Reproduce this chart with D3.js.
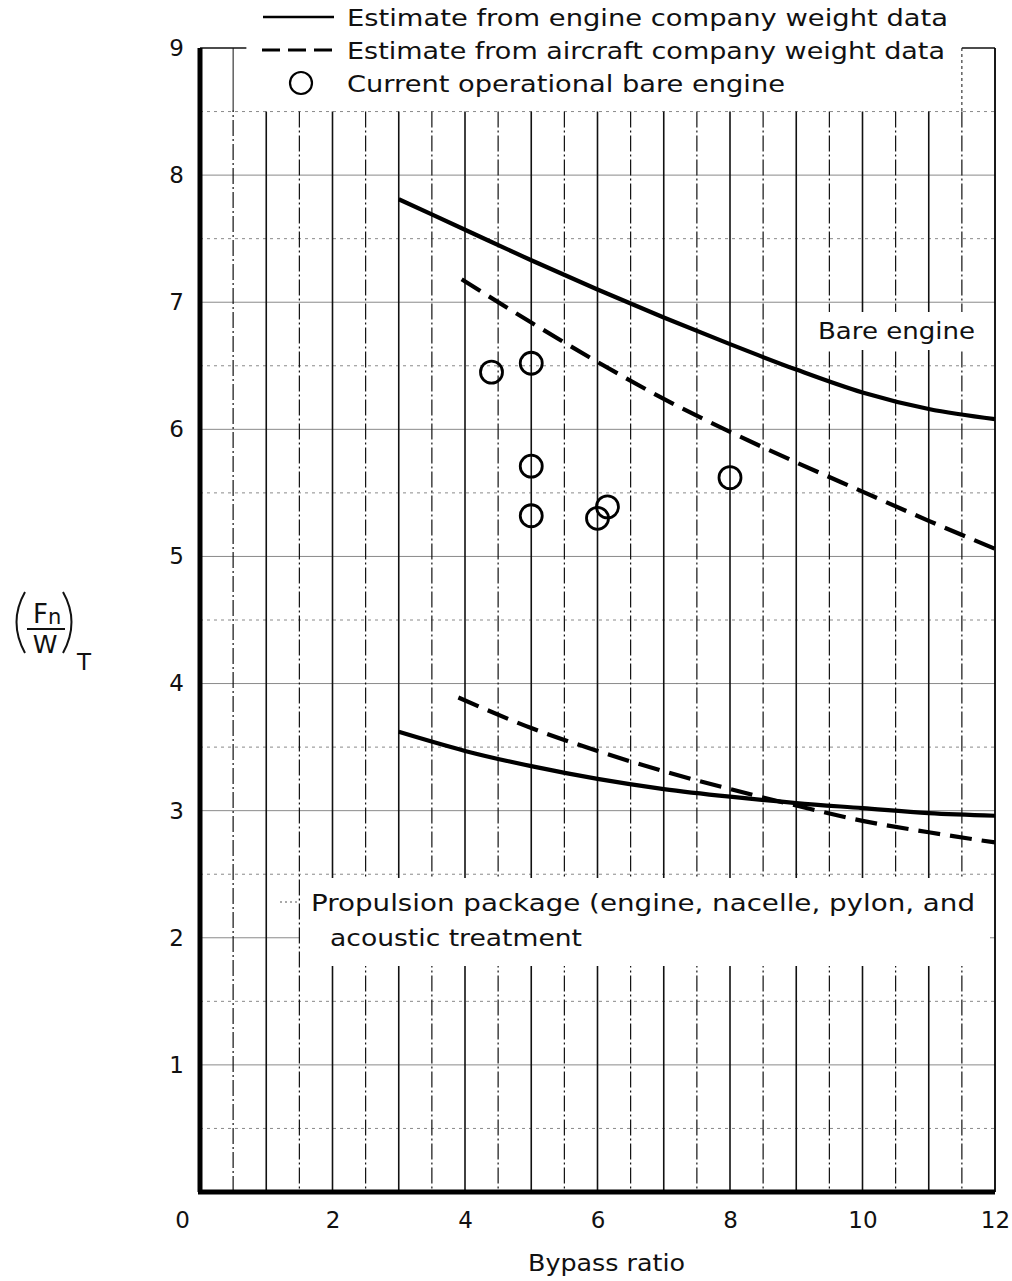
<!DOCTYPE html>
<html>
<head>
<meta charset="utf-8">
<script src="https://cdn.jsdelivr.net/npm/d3@7"></script>
<style>
    body { margin: 0; background: #fff; }
    text { font-family: 'DejaVu Sans', sans-serif; fill: #111; }
</style>
</head>
<body>
<svg id="chart" width="1012" height="1281"></svg>
<script>
// bypass ratio values and (Fn/W)T
var bareEngineX = [3, 4, 5, 6, 7, 8, 9, 10, 11, 12];
var bareEngineY = [7.81, 7.57, 7.33, 7.10, 6.88, 6.67, 6.47, 6.29, 6.16, 6.08];

var bareAircraftX = [3.95, 5, 6, 7, 8, 9, 10, 11, 12];
var bareAircraftY = [7.18, 6.84, 6.53, 6.24, 5.98, 5.74, 5.51, 5.28, 5.06];

var packageEngineX = [3, 4, 5, 6, 7, 8, 9, 10, 11, 12];
var packageEngineY = [3.62, 3.47, 3.35, 3.25, 3.17, 3.11, 3.06, 3.02, 2.98, 2.96];

var packageAircraftX = [3.9, 5, 6, 7, 8, 9, 10, 11, 12];
var packageAircraftY = [3.89, 3.65, 3.47, 3.31, 3.17, 3.04, 2.92, 2.83, 2.75];

var operationalX = [4.4, 5, 5, 5, 6, 6.15, 8];
var operationalY = [6.45, 6.52, 5.71, 5.32, 5.30, 5.39, 5.62];

var xTicks = [0, 2, 4, 6, 8, 10, 12];
var yTicks = [0, 1, 2, 3, 4, 5, 6, 7, 8, 9];

var svg = d3.select('#chart');

var x = d3.scaleLinear().domain([0, 12]).range([200, 995]);
var y = d3.scaleLinear().domain([0, 9]).range([1192, 48]);

var grid = svg.append('g').attr('class', 'grid');

// faint horizontal rulings
d3.range(0.5, 9, 0.5).forEach(function(v) {
    grid.append('line')
        .attr('x1', x(0)).attr('x2', x(12))
        .attr('y1', y(v)).attr('y2', y(v))
        .attr('stroke', '#8a8a8a')
        .attr('stroke-width', 1)
        .attr('stroke-dasharray', v % 1 === 0 ? null : '3,4');
});

// vertical rulings every half unit
d3.range(0.5, 12, 0.5).forEach(function(v) {
    grid.append('line')
        .attr('x1', x(v)).attr('x2', x(v))
        .attr('y1', y(v < 1 ? 9 : 8.5)).attr('y2', y(0))
        .attr('stroke', '#111')
        .attr('stroke-width', v % 1 === 0 ? 1.6 : 1.2)
        .attr('stroke-dasharray', v % 1 === 0 ? null : '16,3,2,3');
});

// white boxes for the notes
grid.append('rect').attr('x', 0).attr('y', 0).attr('width', 1012).attr('height', y(8.5) - 1).attr('fill', '#fff');
grid.append('line').attr('x1', x(0.5)).attr('x2', x(0.5)).attr('y1', y(9)).attr('y2', y(8.5)).attr('stroke', '#111');
grid.append('line').attr('x1', x(0)).attr('x2', x(0.7)).attr('y1', y(9)).attr('y2', y(9)).attr('stroke', '#111').attr('stroke-width', 1.5);
grid.append('line').attr('x1', x(11.5)).attr('x2', x(12)).attr('y1', y(9)).attr('y2', y(9)).attr('stroke', '#111').attr('stroke-width', 1.5);
grid.append('line').attr('x1', x(11.5)).attr('x2', x(11.5)).attr('y1', y(9)).attr('y2', y(8.5)).attr('stroke', '#111').attr('stroke-dasharray', '3,3');
grid.append('rect').attr('x', 300).attr('y', 878).attr('width', 690).attr('height', 88).attr('fill', '#fff');
grid.append('rect').attr('x', 800).attr('y', 312).attr('width', 188).attr('height', 38).attr('fill', '#fff');

// frame: heavy left and bottom, thin right
svg.append('line').attr('x1', x(0)).attr('x2', x(0)).attr('y1', y(9)).attr('y2', y(0))
    .attr('stroke', '#000').attr('stroke-width', 5);
svg.append('line').attr('x1', x(0) - 2).attr('x2', x(12)).attr('y1', y(0)).attr('y2', y(0))
    .attr('stroke', '#000').attr('stroke-width', 5);
svg.append('line').attr('x1', x(12)).attr('x2', x(12)).attr('y1', y(9)).attr('y2', y(0))
    .attr('stroke', '#000').attr('stroke-width', 1.8);

// axes labels
var yAxis = d3.axisLeft(y).tickValues(yTicks).tickSize(0).tickPadding(14);
var yg = svg.append('g').attr('transform', 'translate(' + x(0) + ',0)').call(yAxis);
yg.select('.domain').remove();
yg.selectAll('text').attr('font-size', 23).attr('dx', -2).style('font-family', "'DejaVu Sans', sans-serif")
    .text(function(d) { return d === 0 ? '' : d; });

var xAxis = d3.axisBottom(x).tickValues(xTicks).tickSize(0).tickPadding(20);
var xg = svg.append('g').attr('transform', 'translate(0,' + y(0) + ')').call(xAxis);
xg.select('.domain').remove();
xg.selectAll('text').attr('font-size', 23).style('font-family', "'DejaVu Sans', sans-serif");
xg.selectAll('.tick').filter(function(d) { return d === 0; }).select('text').attr('dx', -18);

// y title (Fn / W)T
var yt = svg.append('g').attr('class', 'y-title');
yt.append('path').attr('d', 'M25,592 Q8,622 25,653').attr('fill', 'none').attr('stroke', '#111').attr('stroke-width', 2);
yt.append('path').attr('d', 'M63,592 Q80,622 63,653').attr('fill', 'none').attr('stroke', '#111').attr('stroke-width', 2);
yt.append('text').attr('x', 33).attr('y', 623).attr('font-size', 26).text('F');
yt.append('text').attr('x', 48).attr('y', 624).attr('font-size', 21).text('n');
yt.append('line').attr('x1', 27).attr('x2', 65).attr('y1', 629).attr('y2', 629).attr('stroke', '#111').attr('stroke-width', 1.8);
yt.append('text').attr('x', 45).attr('y', 653).attr('text-anchor', 'middle').attr('font-size', 25).text('W');
yt.append('text').attr('x', 77).attr('y', 670).attr('font-size', 23).text('T');

// curves
var line = d3.line()
    .x(function(d) { return x(d[0]); })
    .y(function(d) { return y(d[1]); })
    .curve(d3.curveMonotoneX);

function pairs(xs, ys) {
    return xs.map(function(v, i) { return [v, ys[i]]; });
}

var curves = [
    { data: pairs(bareEngineX, bareEngineY), dash: null },
    { data: pairs(bareAircraftX, bareAircraftY), dash: '22,10' },
    { data: pairs(packageEngineX, packageEngineY), dash: null },
    { data: pairs(packageAircraftX, packageAircraftY), dash: '22,10' }
];

svg.append('g').attr('class', 'curves').selectAll('path')
    .data(curves)
    .enter().append('path')
    .attr('d', function(d) { return line(d.data); })
    .attr('fill', 'none')
    .attr('stroke', '#000')
    .attr('stroke-width', 4.2)
    .attr('stroke-dasharray', function(d) { return d.dash; });

svg.append('g').attr('class', 'points').selectAll('circle')
    .data(pairs(operationalX, operationalY))
    .enter().append('circle')
    .attr('cx', function(d) { return x(d[0]); })
    .attr('cy', function(d) { return y(d[1]); })
    .attr('r', 11)
    .attr('fill', 'none')
    .attr('stroke', '#000')
    .attr('stroke-width', 2.8);

// notes, stretched to the lettering widths of the original
function note(g, tx, ty, len, str) {
    return g.append('text').attr('x', tx).attr('y', ty).attr('font-size', 23)
        .attr('textLength', len).attr('lengthAdjust', 'spacingAndGlyphs').text(str);
}

note(svg, 528, 1271, 157, 'Bypass ratio');
note(svg, 818, 339, 157, 'Bare engine');
note(svg, 311, 911, 664, 'Propulsion package (engine, nacelle, pylon, and');
note(svg, 330, 946, 252, 'acoustic treatment');
grid.append('line').attr('x1', 280).attr('x2', 300).attr('y1', 902).attr('y2', 902).attr('stroke', '#555').attr('stroke-dasharray', '2,3');

// legend
var legend = svg.append('g').attr('class', 'legend');
legend.append('line').attr('x1', 263).attr('x2', 334).attr('y1', 17).attr('y2', 17)
    .attr('stroke', '#000').attr('stroke-width', 2.5);
legend.append('line').attr('x1', 262).attr('x2', 334).attr('y1', 50).attr('y2', 50)
    .attr('stroke', '#000').attr('stroke-width', 3).attr('stroke-dasharray', '18,8');
legend.append('circle').attr('cx', 301).attr('cy', 83).attr('r', 11)
    .attr('fill', 'none').attr('stroke', '#000').attr('stroke-width', 2.2);
note(legend, 347, 26, 601, 'Estimate from engine company weight data');
note(legend, 347, 59, 598, 'Estimate from aircraft company weight data');
note(legend, 347, 92, 438, 'Current operational bare engine');
</script>
</body>
</html>
